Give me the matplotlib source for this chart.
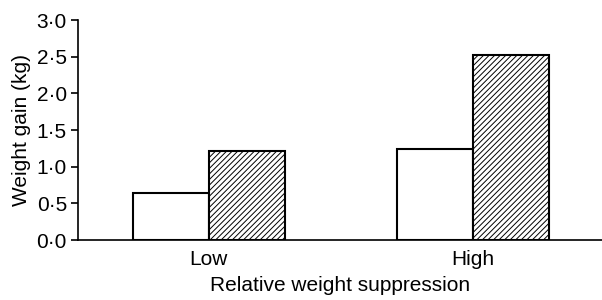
import matplotlib.pyplot as plt
import numpy as np

plt.rcParams['font.family'] = ['Liberation Sans', 'DejaVu Sans']
plt.rcParams['hatch.linewidth'] = 0.7

groups = ['Low', 'High']
plain = [0.64, 1.24]
hatched = [1.21, 2.52]
yticks = [0.0, 0.5, 1.0, 1.5, 2.0, 2.5, 3.0]
ylabels = ['0·0', '0·5', '1·0', '1·5', '2·0', '2·5', '3·0']

fig = plt.figure(figsize=(6.02, 3.00), dpi=100)
ax = fig.add_axes([0.1296, 0.2, 0.8704, 0.7333])

x = np.arange(len(groups))
w = 0.288
ax.bar(x - w/2, plain, w, color='white', edgecolor='black', linewidth=1.5)
ax.bar(x + w/2, hatched, w, color='white', edgecolor='black', linewidth=1.5, hatch='//////')

fs = 15
ax.set_xlim(-0.496, 1.49)
ax.set_ylim(0, 3.0)
ax.set_yticks(yticks)
ax.set_yticklabels(ylabels)
ax.set_xticks(x)
ax.set_xticklabels(groups)
ax.tick_params(axis='x', length=0, labelsize=fs, pad=7)
ax.tick_params(axis='y', length=5, width=1.2, labelsize=fs, pad=3)
ax.spines['top'].set_visible(False)
ax.spines['right'].set_visible(False)
ax.spines['left'].set_linewidth(1.2)
ax.spines['bottom'].set_linewidth(1.2)
ax.set_ylabel('Weight gain (kg)', fontsize=fs, labelpad=4)
ax.set_xlabel('Relative weight suppression', fontsize=fs, labelpad=5)

plt.savefig('out.png', dpi=100)
